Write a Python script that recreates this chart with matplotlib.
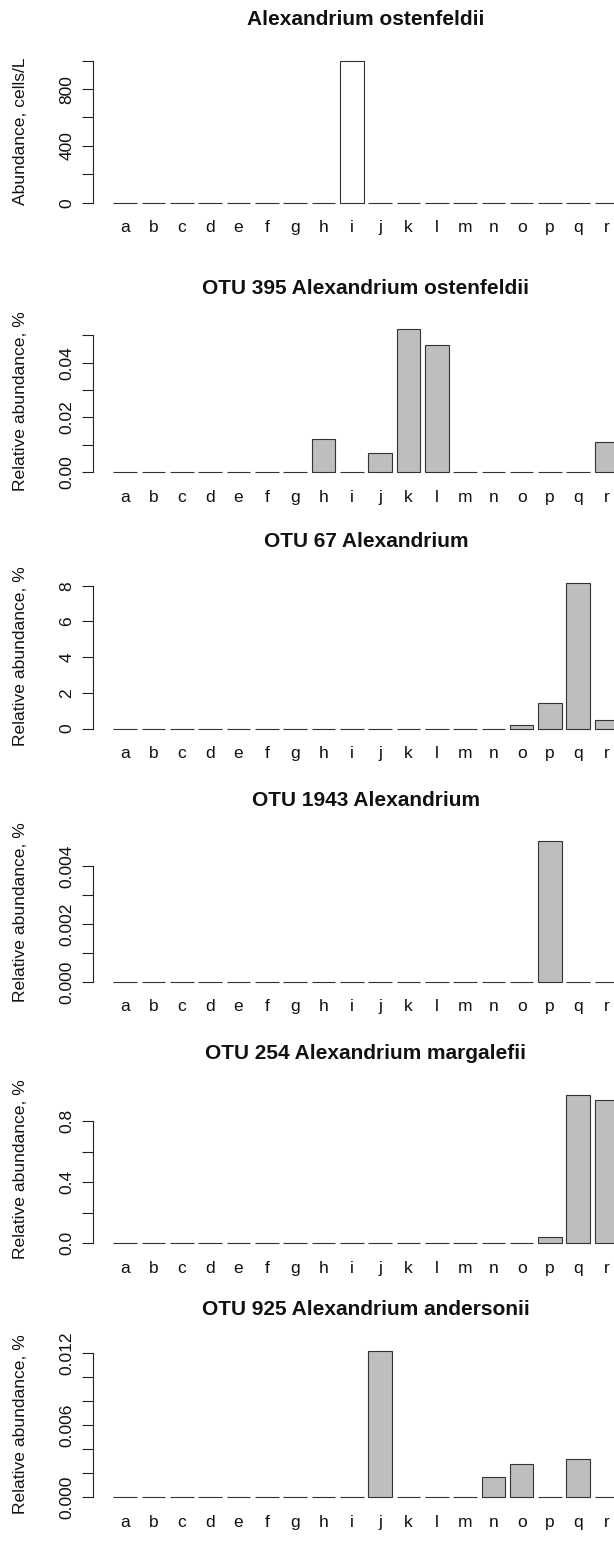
import matplotlib
matplotlib.use("Agg")
import matplotlib.pyplot as plt
import matplotlib.transforms as mtransforms
import numpy as np

plt.rcParams["font.family"] = ["Liberation Sans", "DejaVu Sans"]

# ---------------- data ----------------
sites = ["a", "b", "c", "d", "e", "f", "g", "h", "i", "j", "k", "l", "m", "n", "o", "p", "q", "r"]

titles = [
    "Alexandrium ostenfeldii",
    "OTU 395 Alexandrium ostenfeldii",
    "OTU 67 Alexandrium",
    "OTU 1943 Alexandrium",
    "OTU 254 Alexandrium margalefii",
    "OTU 925 Alexandrium andersonii",
]
ylabels = [
    "Abundance, cells/L",
    "Relative abundance, %",
    "Relative abundance, %",
    "Relative abundance, %",
    "Relative abundance, %",
    "Relative abundance, %",
]

cells_per_l = [0, 0, 0, 0, 0, 0, 0, 0, 1000, 0, 0, 0, 0, 0, 0, 0, 0, 0]
otu395 = [0, 0, 0, 0, 0, 0, 0, 0.0123, 0, 0.0069, 0.0523, 0.0465, 0, 0, 0, 0, 0, 0.0109]
otu67 = [0, 0, 0, 0, 0, 0, 0, 0, 0, 0, 0, 0, 0, 0, 0.21, 1.44, 8.17, 0.49]
otu1943 = [0, 0, 0, 0, 0, 0, 0, 0, 0, 0, 0, 0, 0, 0, 0, 0.00487, 0, 0]
otu254 = [0, 0, 0, 0, 0, 0, 0, 0, 0, 0, 0, 0, 0, 0, 0, 0.039, 0.970, 0.937]
otu925 = [0, 0, 0, 0, 0, 0, 0, 0, 0, 0.0122, 0, 0, 0, 0.0017, 0.0028, 0, 0.0032, 0]

ticks1 = [0, 200, 400, 600, 800, 1000]
ticklabels1 = ["0", "", "400", "", "800", ""]
ticks2 = [0, 0.01, 0.02, 0.03, 0.04, 0.05]
ticklabels2 = ["0.00", "", "0.02", "", "0.04", ""]
ticks3 = [0, 2, 4, 6, 8]
ticklabels3 = ["0", "2", "4", "6", "8"]
ticks4 = [0, 0.001, 0.002, 0.003, 0.004]
ticklabels4 = ["0.000", "", "0.002", "", "0.004"]
ticks5 = [0, 0.2, 0.4, 0.6, 0.8]
ticklabels5 = ["0.0", "", "0.4", "", "0.8"]
ticks6 = [0, 0.002, 0.004, 0.006, 0.008, 0.010, 0.012]
ticklabels6 = ["0.000", "", "", "0.006", "", "", "0.012"]

series = [cells_per_l, otu395, otu67, otu1943, otu254, otu925]
ticks = [ticks1, ticks2, ticks3, ticks4, ticks5, ticks6]
ticklabels = [ticklabels1, ticklabels2, ticklabels3, ticklabels4, ticklabels5, ticklabels6]
fills = ["white", "#bebebe", "#bebebe", "#bebebe", "#bebebe", "#bebebe"]

# ---------------- layout (pixels: plot-region top, bottom) ----------------
W, H = 614, 1544
panel_px = [(55.0, 208.4), (323.3, 478.0), (576.9, 734.5),
            (835.7, 987.6), (1089.1, 1249.2), (1345.1, 1503.2)]
left_px, right_px = 93.3, 638.6

fig = plt.figure(figsize=(W / 100, H / 100), dpi=100)
fig.patch.set_facecolor("white")

n = len(sites)
pos = 0.7 + 1.2 * np.arange(n)          # R barplot: width 1, space 0.2
span = 1.2 * n - 0.2
xlim = (0.2 - 0.04 * span, 1.2 * n + 0.04 * span)

for k in range(6):
    top, bot = panel_px[k]
    ax = fig.add_axes([left_px / W, 1 - bot / H, (right_px - left_px) / W, (bot - top) / H])
    vals = series[k]
    ax.bar(pos, vals, width=1.0, color=fills[k], edgecolor="#333333", linewidth=0.8)
    ymax = max(vals)
    ax.set_xlim(*xlim)
    ax.set_ylim(-0.04 * ymax, 1.04 * ymax)

    for s in ("top", "right", "bottom"):
        ax.spines[s].set_visible(False)
    ax.spines["left"].set_bounds(ticks[k][0], ticks[k][-1])
    ax.spines["left"].set_linewidth(0.8)
    ax.spines["left"].set_color("#222222")

    ax.set_yticks(ticks[k])
    ax.set_yticklabels(ticklabels[k], rotation=90, va="center", ha="right")
    ax.tick_params(axis="y", length=8.2, width=0.8, color="#222222", pad=5.5,
                   labelsize=12.5, labelcolor="#111111")

    ax.set_xticks(pos)
    ax.set_xticklabels(sites)
    ax.tick_params(axis="x", length=0, pad=8.3, labelsize=12.5, labelcolor="#111111")

    ax.set_title(titles[k], fontweight="bold", fontsize=15.0, pad=21.4, color="#111111")
    ax.set_ylabel(ylabels[k], fontsize=12.6, va="center", color="#111111")
    tr = mtransforms.blended_transform_factory(fig.transFigure, ax.transAxes)
    ax.yaxis.set_label_coords(20.6 / W, 0.5, transform=tr)

fig.savefig("out.png", dpi=100, facecolor="white")
